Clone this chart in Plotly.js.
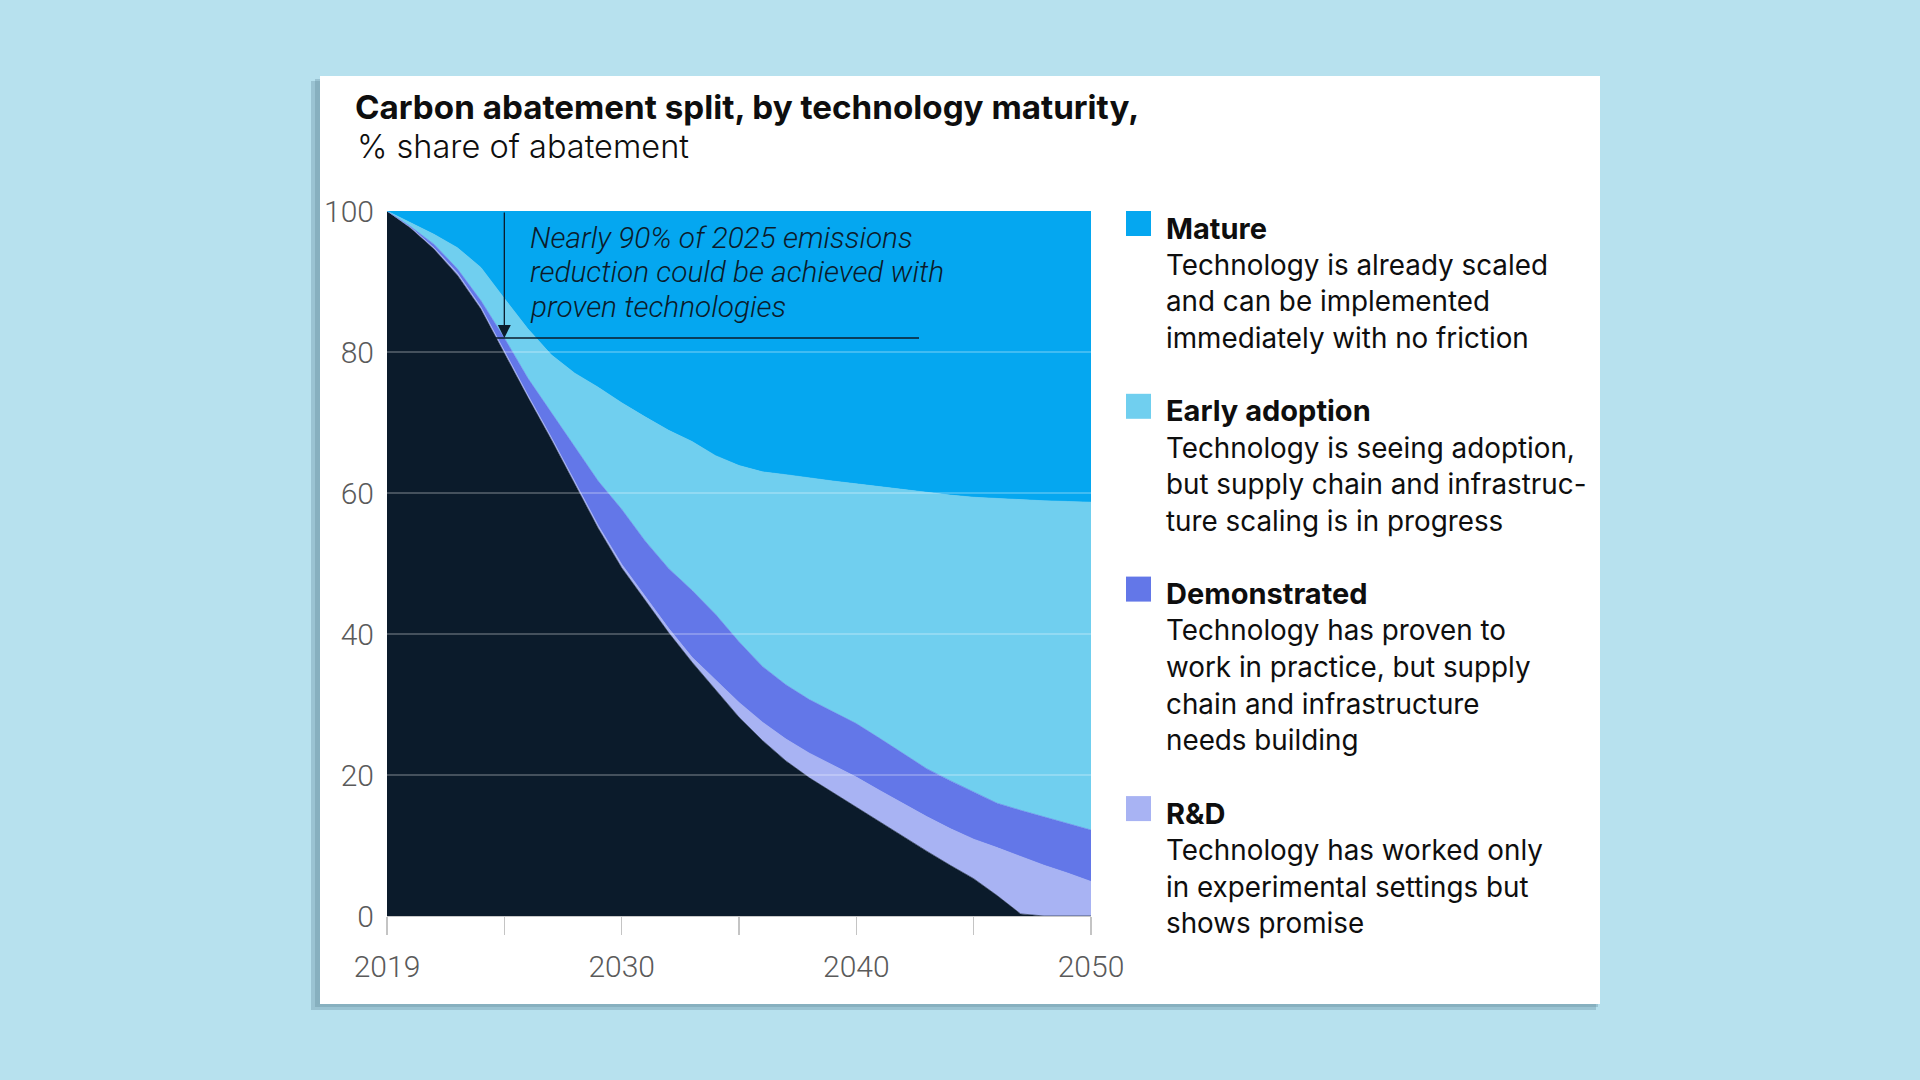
<!DOCTYPE html>
<html>
<head>
<meta charset="utf-8">
<script src="https://cdn.plot.ly/plotly-3.0.1.min.js"></script>
<style>
  html, body { margin: 0; padding: 0; background: #B7E1EE; }
  #chart { width: 1920px; height: 1080px; }
</style>
</head>
<body>
<div id="chart"></div>
<script>
// ---------------- DATA ----------------
// Model years (first point is the 2019 baseline)
const years = [2019, 2021, 2022, 2023, 2024, 2025, 2026, 2027, 2028, 2029, 2030,
               2031, 2032, 2033, 2034, 2035, 2036, 2037, 2038, 2039, 2040,
               2041, 2042, 2043, 2044, 2045, 2046, 2047, 2048, 2049, 2050];

// % share of abatement (stacked bottom -> top)
const remaining = [100, 97.6, 94.6, 90.9, 86.1, 79.8, 73.6, 67.6, 61.3, 55.0, 49.4,
                   44.8, 40.2, 36.0, 32.1, 28.2, 24.9, 22.0, 19.6, 17.5, 15.5,
                   13.4, 11.2, 9.2, 7.2, 5.3, 2.9, 0.3, 0, 0, 0];
const rnd = [0, 0.1, 0.2, 0.3, 0.3, 0.3, 0.3, 0.3, 0.4, 0.4, 0.5,
             0.5, 0.6, 0.7, 1.4, 2.1, 2.6, 3.1, 3.5, 3.9, 4.2,
             4.4, 4.7, 4.9, 5.2, 5.6, 6.8, 8.1, 7.2, 6.1, 4.9];
const demonstrated = [0, 0.1, 0.5, 0.6, 0.9, 1.9, 2.4, 3.5, 4.8, 6.3, 7.8,
                      7.9, 8.5, 9.5, 9.3, 8.6, 7.9, 7.7, 7.6, 7.6, 7.6,
                      7.4, 7.1, 6.8, 6.8, 6.7, 6.3, 6.6, 6.9, 7.0, 7.3];
const earlyAdoption = [0, 0.5, 1.4, 3.0, 4.7, 5.6, 7.0, 8.2, 10.5, 13.3, 15.1,
                       17.6, 19.6, 21.1, 22.5, 25.0, 27.6, 29.8, 31.4, 32.7, 34.0,
                       35.7, 37.4, 39.1, 40.5, 41.8, 43.2, 44.1, 44.8, 45.7, 46.5];
const mature = [0, 1.7, 3.3, 5.2, 8.0, 12.4, 16.7, 20.4, 23.0, 25.0, 27.2,
                29.2, 31.1, 32.7, 34.7, 36.1, 37.0, 37.4, 37.9, 38.3, 38.7,
                39.1, 39.6, 40.0, 40.3, 40.6, 40.8, 40.9, 41.1, 41.2, 41.3];

// axis ticks
const xTickVals = [2019, 2025, 2030, 2035, 2040, 2045, 2050];
const xTickText = ['2019', '', '2030', '', '2040', '', '2050'];
const yTickVals = [0, 20, 40, 60, 80, 100];
const gridVals = [20, 40, 60, 80];

// legend
const legendNames = ['Mature', 'Early adoption', 'Demonstrated', 'R&amp;D'];
const legendDescriptions = [
  ['Technology is already scaled', 'and can be implemented', 'immediately with no friction'],
  ['Technology is seeing adoption,', 'but supply chain and infrastruc-', 'ture scaling is in progress'],
  ['Technology has proven to', 'work in practice, but supply', 'chain and infrastructure', 'needs building'],
  ['Technology has worked only', 'in experimental settings but', 'shows promise']
];

// callout
const calloutLines = ['Nearly 90% of 2025 emissions', 'reduction could be achieved with', 'proven technologies'];
const calloutYear = 2025;
const calloutValue = 82;

// ---------------- STYLE ----------------
const C = {
  bg: '#B7E1EE',
  card: '#FFFFFF',
  remaining: '#0B1B2B',
  rnd: '#A8B3F3',
  demonstrated: '#6377E8',
  early: '#70CFEF',
  mature: '#05A7F0',
  text: '#0E0E0E',
  tick: '#5A5A5A'
};
const legendColors = [C.mature, C.early, C.demonstrated, C.rnd];

// pixel layout of the plot area
const L = 387, R = 1091, T = 211, B = 916;
const px = v => (v - L) / (R - L);
const py = v => (B - v) / (B - T);

function area(name, y, color) {
  return {
    type: 'scatter', mode: 'lines', x: years, y: y, name: name,
    stackgroup: 'one', fillcolor: color,
    line: { color: color, width: 0.6, shape: 'linear' },
    hoverinfo: 'skip', showlegend: false
  };
}

const traces = [
  area('Remaining', remaining, C.remaining),
  area('R&D', rnd, C.rnd),
  area('Demonstrated', demonstrated, C.demonstrated),
  area('Early adoption', earlyAdoption, C.early),
  area('Mature', mature, C.mature)
];

const shapes = [];
const annotations = [];

// card shadow + card
shapes.push({ type: 'rect', xref: 'paper', yref: 'paper', layer: 'below',
  x0: px(311), x1: px(1596), y0: py(1010), y1: py(81),
  fillcolor: 'rgba(100,140,158,0.35)', line: { width: 0 } });
shapes.push({ type: 'rect', xref: 'paper', yref: 'paper', layer: 'below',
  x0: px(315), x1: px(1598), y0: py(1007), y1: py(79),
  fillcolor: 'rgba(100,140,158,0.35)', line: { width: 0 } });
shapes.push({ type: 'rect', xref: 'paper', yref: 'paper', layer: 'below',
  x0: px(320), x1: px(1600), y0: py(1004), y1: py(76),
  fillcolor: C.card, line: { width: 0 } });

// gridlines drawn over the areas
gridVals.forEach(v => shapes.push({ type: 'line', xref: 'paper', yref: 'y', layer: 'above',
  x0: 0, x1: 1, y0: v, y1: v, line: { color: 'rgba(255,255,255,0.32)', width: 1.3 } }));

// callout baseline
shapes.push({ type: 'line', xref: 'paper', yref: 'y', layer: 'above',
  x0: px(491), x1: px(919), y0: calloutValue, y1: calloutValue,
  line: { color: '#0B1B2B', width: 1.5 } });

// callout arrow
const ci = years.indexOf(calloutYear);
annotations.push({ x: ci, y: calloutValue, xref: 'x', yref: 'y',
  ax: ci, ay: 100, axref: 'x', ayref: 'y', text: '', showarrow: true,
  arrowhead: 2, arrowsize: 2, arrowwidth: 1.3, arrowcolor: '#0B1B2B', standoff: 0 });

// callout text
calloutLines.forEach((t, i) => annotations.push({
  text: t, xref: 'paper', yref: 'paper', x: px(528), y: py(237.5 + i * 34.3),
  xanchor: 'left', yanchor: 'middle', showarrow: false,
  font: { family: 'Roboto', size: 29.8, style: 'italic', weight: 300, color: '#0B1B2B' }
}));

// subtitle
annotations.push({ text: '% share of abatement', xref: 'paper', yref: 'paper',
  x: px(355), y: py(146.5), xanchor: 'left', yanchor: 'middle', showarrow: false,
  font: { family: 'Inter', size: 32.5, weight: 300, color: C.text } });

// custom legend
let yh = 228;
legendNames.forEach((name, k) => {
  shapes.push({ type: 'rect', xref: 'paper', yref: 'paper', layer: 'above',
    x0: px(1126), x1: px(1151), y0: py(yh - 4.5 + 12.5), y1: py(yh - 4.5 - 12.5),
    fillcolor: legendColors[k], line: { width: 0 } });
  annotations.push({ text: '<b>' + name + '</b>', xref: 'paper', yref: 'paper',
    x: px(1164), y: py(yh), xanchor: 'left', yanchor: 'middle', showarrow: false,
    font: { family: 'Inter', size: 29, color: C.text } });
  legendDescriptions[k].forEach((line, i) => annotations.push({
    text: line, xref: 'paper', yref: 'paper',
    x: px(1164), y: py(yh + 36.7 * (i + 1)), xanchor: 'left', yanchor: 'middle', showarrow: false,
    font: { family: 'Inter', size: 27.8, color: C.text } }));
  yh += 36.7 * (legendDescriptions[k].length + 1) + 36;
});

const layout = {
  width: 1920, height: 1080,
  paper_bgcolor: C.bg, plot_bgcolor: 'rgba(0,0,0,0)',
  margin: { l: L, r: 1920 - R, t: T, b: 1080 - B, pad: 0 },
  showlegend: false,
  title: {
    text: '<b>Carbon abatement split, by technology maturity,</b>',
    font: { family: 'Inter', size: 33.2, color: C.text },
    xref: 'container', x: 355 / 1920, xanchor: 'left',
    yref: 'container', y: 1 - 107.5 / 1080, yanchor: 'middle'
  },
  xaxis: {
    type: 'category', range: [0, years.length - 1], fixedrange: true,
    tickvals: xTickVals, ticktext: xTickText,
    ticks: 'outside', ticklen: 18, tickwidth: 1.3, tickcolor: '#C4C4C4',
    showline: true, linecolor: '#C8C8C8', linewidth: 1.3,
    showgrid: false, zeroline: false, ticklabelstandoff: 6,
    tickfont: { family: 'Roboto', size: 30, weight: 300, color: C.tick }
  },
  yaxis: {
    range: [0, 100], fixedrange: true, tickvals: yTickVals,
    ticks: '', showline: false, showgrid: false, zeroline: false,
    ticklabelstandoff: 12,
    tickfont: { family: 'Roboto', size: 30, weight: 300, color: C.tick }
  },
  shapes: shapes,
  annotations: annotations
};

Plotly.newPlot('chart', traces, layout, { staticPlot: true, displayModeBar: false });
</script>
</body>
</html>
